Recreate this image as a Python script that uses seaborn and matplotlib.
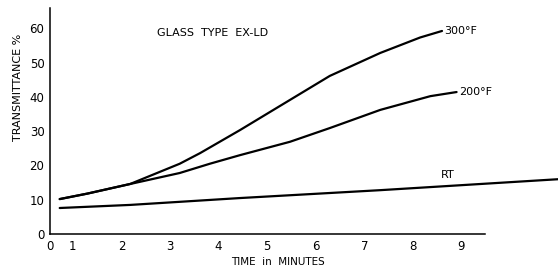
import numpy as np
import pandas as pd
import matplotlib
matplotlib.use('Agg')
import matplotlib.pyplot as plt
import seaborn as sns

# 읽어낸 곡선 값 (시간 분, 투과율 %)
t300 = [0.73, 1.3, 2.18, 3.2, 3.62, 4.44, 5.47, 6.29, 7.33, 8.15, 8.6]
v300 = [10.2, 11.8, 14.6, 20.5, 23.6, 30.3, 39.1, 46.1, 52.8, 57.3, 59.2]
t200 = [0.73, 1.3, 2.18, 3.2, 3.82, 4.44, 5.47, 6.29, 7.33, 8.36, 8.9]
v200 = [10.2, 11.8, 14.6, 17.8, 20.5, 23.0, 26.9, 30.9, 36.2, 40.2, 41.4]
t_rt = [0.73, 2.18, 4.44, 7.33, 11.0]
v_rt = [7.6, 8.5, 10.5, 12.8, 16.0]

xticks = [1, 2, 3, 4, 5, 6, 7, 8, 9]
yticks = [0, 10, 20, 30, 40, 50, 60]

sns.set_style('white')
plt.rcParams['font.family'] = ['DejaVu Sans']
plt.rcParams['text.color'] = 'black'
plt.rcParams['axes.labelcolor'] = 'black'

fig = plt.figure(figsize=(5.58, 2.66), dpi=100)
ax = fig.add_axes([0.0896, 0.12, 0.78, 0.85])

df300 = pd.DataFrame({'t': t300, 'v': v300})
df200 = pd.DataFrame({'t': t200, 'v': v200})
dfrt = pd.DataFrame({'t': t_rt, 'v': v_rt})

for d in [df300, df200, dfrt]:
    sns.lineplot(data=d, x='t', y='v', color='black', lw=1.6, ax=ax, sort=False)
for ln in ax.get_lines():
    ln.set_clip_on(False)

x0 = 0.53
ax.set_xlim(x0, 9.49)
ax.set_ylim(0, 65.9)
ax.set_xticks([x0] + xticks)
ax.set_xticklabels(['0'] + [str(x) for x in xticks], fontsize=8.5)
ax.set_yticks(yticks)
ax.set_yticklabels([str(y) for y in yticks], fontsize=8.5)
ax.tick_params(direction='in', length=5, width=1, pad=4, colors='black')
ax.xaxis.get_major_ticks()[0].tick1line.set_visible(False)
sns.despine(ax=ax)
for s in ['left', 'bottom']:
    ax.spines[s].set_linewidth(1.1)
    ax.spines[s].set_color('black')

ax.set_xlabel('TIME  in  MINUTES', fontsize=7.5)
ax.set_ylabel('TRANSMITTANCE %', fontsize=8)
ax.xaxis.set_label_coords(0.524, -0.1)
ax.yaxis.set_label_coords(-0.062, 0.65)

ax.text(2.73, 58.6, 'GLASS  TYPE  EX-LD', fontsize=8, va='center', ha='left')
ax.text(8.65, 59.2, '300°F', fontsize=8, va='center', ha='left')
ax.text(8.95, 41.4, '200°F', fontsize=8, va='center', ha='left')
ax.text(8.72, 17.2, 'RT', fontsize=8, va='center', ha='center')

fig.savefig('out.png', dpi=100)
